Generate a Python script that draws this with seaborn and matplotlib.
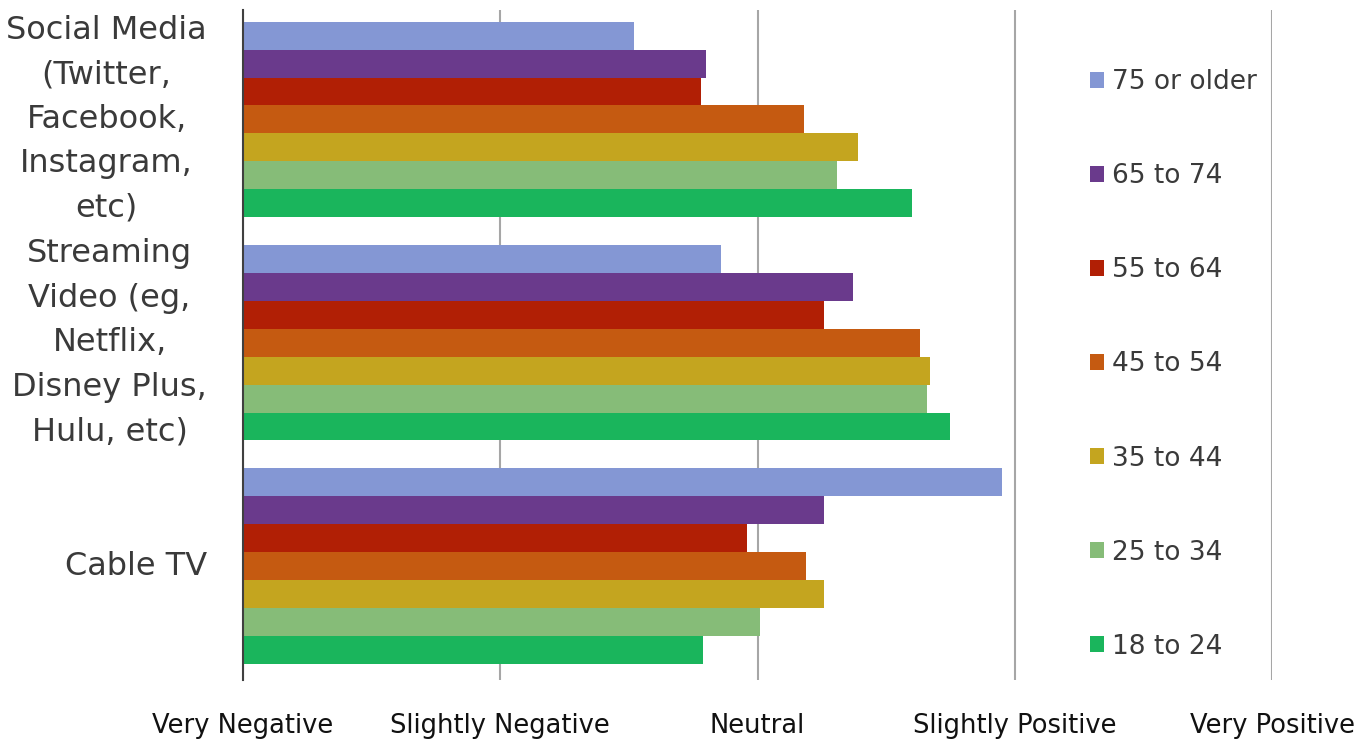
import matplotlib
matplotlib.use("Agg")
import matplotlib.pyplot as plt
from matplotlib.patches import Patch
import seaborn as sns
import pandas as pd

# categories and age groups (top to bottom)
platforms = [
    "Social Media\n(Twitter,\nFacebook,\nInstagram,\netc)",
    "Streaming\nVideo (eg,\nNetflix,\nDisney Plus,\nHulu, etc)",
    "Cable TV",
]
age_groups = ["75 or older", "65 to 74", "55 to 64", "45 to 54", "35 to 44", "25 to 34", "18 to 24"]

# sentiment score: 1 = Very Negative ... 5 = Very Positive
social_media = [2.52, 2.80, 2.78, 3.18, 3.39, 3.31, 3.60]
streaming = [2.86, 3.37, 3.26, 3.63, 3.67, 3.66, 3.75]
cable_tv = [3.95, 3.26, 2.96, 3.19, 3.26, 3.01, 2.79]

x_tick_labels = ["Very Negative", "Slightly Negative", "Neutral", "Slightly Positive", "Very Positive"]

colors = ["#8497D4", "#6A3A8C", "#B11F05", "#C55A11", "#C4A51F", "#86BC78", "#1AB55C"]
palette = dict(zip(age_groups, colors))

rows = []
for platform, vals in zip(platforms, [social_media, streaming, cable_tv]):
    for age, v in zip(age_groups, vals):
        rows.append({"platform": platform, "age": age, "score": v})
df = pd.DataFrame(rows)

sns.set_style("white")
plt.rcParams["font.family"] = ["DejaVu Sans"]

fig = plt.figure(figsize=(13.66, 7.43), dpi=100)
ax = fig.add_axes([243 / 1366, 1 - 680 / 743, 1029 / 1366, 670 / 743])

sns.barplot(data=df, x="score", y="platform", hue="age", order=platforms,
            hue_order=age_groups, palette=palette, orient="h", width=0.875,
            saturation=1, legend=False, linewidth=0, edgecolor="none", ax=ax)

ax.set_xlim(1, 5)
ax.set_ylim(2.51, -0.49)
ax.set_xticks([1, 2, 3, 4, 5])
ax.set_xticklabels(x_tick_labels, fontsize=18.5, color="#111111")
ax.tick_params(axis="x", length=0, pad=24)
ax.tick_params(axis="y", length=0, pad=26)
for lbl in ax.get_yticklabels():
    lbl.set_fontsize(23)
    lbl.set_color("#3A3A3A")
    lbl.set_multialignment("center")
    lbl.set_linespacing(1.56)
    lbl.set_verticalalignment("center")
ax.set_xlabel("")
ax.set_ylabel("")

ax.grid(axis="x", color="#A6A6A6", lw=1.5)
ax.grid(axis="y", visible=False)
ax.set_axisbelow(True)
for side in ["top", "right", "bottom"]:
    ax.spines[side].set_visible(False)
ax.spines["left"].set_color("#404040")
ax.spines["left"].set_linewidth(1.5)

handles = [Patch(facecolor=palette[a], edgecolor="none") for a in age_groups]
ax.legend(handles, age_groups, loc="center left", bbox_to_anchor=(0.823, 0.471),
          frameon=False, fontsize=19, labelspacing=2.58, handlelength=0.55,
          handleheight=0.55, handletextpad=0.3, borderpad=0, borderaxespad=0,
          labelcolor="#3A3A3A")

fig.savefig("out.png", dpi=100)
